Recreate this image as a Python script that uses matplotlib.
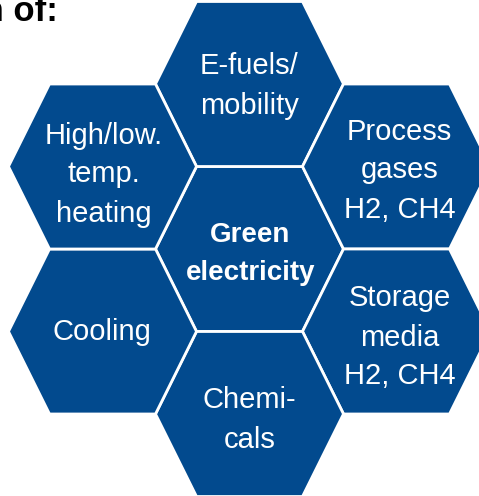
import matplotlib
matplotlib.use("Agg")
import matplotlib.pyplot as plt
from matplotlib.patches import Polygon

# ---- data ----
center_label = "Green\nelectricity"
outer_labels = ["E-fuels/\nmobility", "Process\ngases\nH2, CH4", "Storage\nmedia\nH2, CH4",
                "Chemi-\ncals", "Cooling", "High/low.\ntemp.\nheating"]
title_text = "Utilization of:"

# ---- layout ----
W, H = 479, 496
fig = plt.figure(figsize=(W / 100, H / 100), dpi=100)
ax = fig.add_axes([0, 0, 1, 1])
ax.set_xlim(0, W)
ax.set_ylim(H, 0)
ax.axis("off")

blue = "#024A8E"
a, b, h = 94, 53, 82.5          # half-width, half top edge, half-height
cx0, cy0 = 249.5, 249            # centre hexagon
dx, dy = a + b, h
# neighbour offsets (top, upper-right, lower-right, bottom, lower-left, upper-left)
offsets = [(0, -2), (1, -1), (1, 1), (0, 2), (-1, 1), (-1, -1)]
text_dx = [0, 3, 3, 0, -1, 1]
text_dy = [2, 4, 6, 6, 0, 8]

def hexagon(cx, cy):
    pts = [(cx - a, cy), (cx - b, cy - h), (cx + b, cy - h),
           (cx + a, cy), (cx + b, cy + h), (cx - b, cy + h)]
    ax.add_patch(Polygon(pts, closed=True, facecolor=blue, edgecolor="white",
                         linewidth=2.0, joinstyle="miter"))

font = "Liberation Sans"
fs = 21
ls = 1.5

hexagon(cx0, cy0)
ax.text(cx0 + 1, cy0 + 5, center_label, ha="center", va="center", color="white",
        fontsize=20, fontweight="bold", family=font, linespacing=1.55)

for (ox, oy), lab, tdx, tdy in zip(offsets, outer_labels, text_dx, text_dy):
    cx, cy = cx0 + ox * dx, cy0 + oy * dy
    hexagon(cx, cy)
    ax.text(cx + tdx, cy + tdy, lab, ha="center", va="center", color="white",
            fontsize=fs, family=font, linespacing=ls)

ax.text(58, 21, title_text, ha="right", va="baseline", color="black",
        fontsize=25, fontweight="bold", family=font)

fig.savefig("out.png", dpi=100)
